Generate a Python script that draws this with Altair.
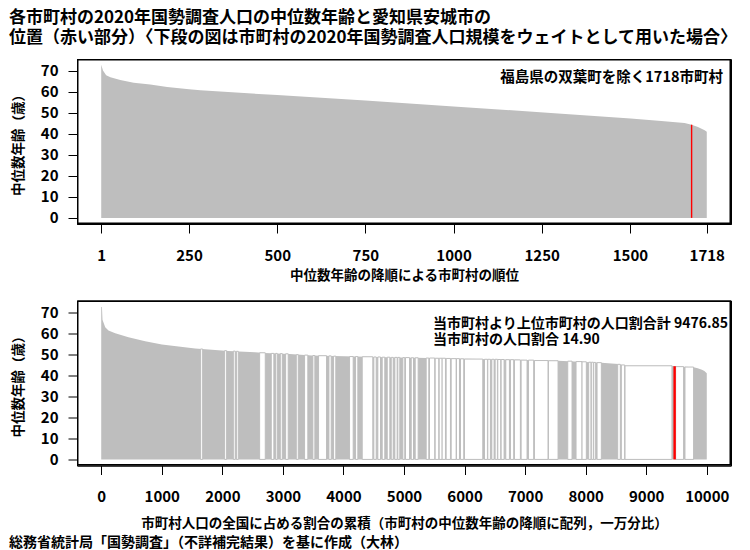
import altair as alt
import pandas as pd

FONT = "Noto Sans CJK JP"
GRAY = "#bebebe"
RED = "#ff0000"

title_lines = ["各市町村の2020年国勢調査人口の中位数年齢と愛知県安城市の",
               "位置（赤い部分）〈下段の図は市町村の2020年国勢調査人口規模をウェイトとして用いた場合〉"]
source_text = "総務省統計局「国勢調査」（不詳補完結果）を基に作成（大林）"
top_note = "福島県の双葉町を除く1718市町村"
bottom_notes = ["当市町村より上位市町村の人口割合計 9476.85", "当市町村の人口割合 14.90"]
y_title = "中位数年齢（歳）"
top_x_title = "中位数年齢の降順による市町村の順位"
bottom_x_title = "市町村人口の全国に占める割合の累積（市町村の中位数年齢の降順に配列，一万分比）"

# top panel: sorted median age by rank
rank = [1, 6, 15, 27, 55, 93, 140, 188, 250, 282, 500, 750, 1000, 1276, 1502,
        1589, 1655, 1675, 1693, 1712, 1718]
age_top = [73.0, 70.2, 67.9, 67.0, 65.7, 64.4, 63.5, 62.4, 61.3, 60.8, 58.5, 55.9,
           53.1, 50.0, 47.3, 46.2, 45.2, 44.4, 43.3, 41.8, 41.0]
anjo_rank = 1675
anjo_age = 44.4
top_ticks = [1, 250, 500, 750, 1000, 1250, 1500, 1718]

# bottom panel: cumulative population share (per 10000)
cum = [0, 12, 21, 66, 120, 231, 450, 726, 1002, 1276, 1551, 1827, 2101, 2541, 2701,
       3112, 3480, 4200, 4860, 5190, 5990, 6650, 7150, 7540, 8262, 8540, 8650, 9425,
       9470, 9782, 9850, 9920, 9960, 10000]
age_cum = [72.6, 72.6, 66.5, 63.0, 61.4, 60.1, 58.2, 56.3, 54.7, 53.8, 52.8, 52.2,
           51.7, 51.1, 50.7, 50.2, 49.5, 49.0, 48.6, 48.4, 47.9, 47.6, 47.2, 47.0,
           46.1, 45.4, 44.6, 44.6, 44.4, 43.9, 43.4, 42.7, 42.1, 41.1]
# large municipalities (wide rectangles, drawn hollow)
big_left = [1642, 2038, 2182, 2232, 2616, 2808, 2880, 2957, 3045, 3221, 3358, 3495,
            3589, 3760, 3837, 4101, 4200, 4310, 4502, 4568, 4640, 4723, 4789, 4849,
            4898, 4981, 5025, 5119, 5185, 5366, 5421, 5515, 5581, 5630, 5696, 5779,
            5867, 5933, 5999, 6329, 6384, 6450, 6505, 6549, 6604, 6681, 6758, 6824,
            6934, 7055, 7154, 7385, 7704, 7841, 7940, 8050, 8094, 8133, 8188, 8529,
            8589, 8650, 9486, 9640]
big_right = [1675, 2071, 2213, 2263, 2709, 2851, 2907, 2990, 3088, 3254, 3412, 3528,
             3721, 3798, 3874, 4161, 4238, 4485, 4541, 4612, 4683, 4766, 4822, 4887,
             4931, 5013, 5091, 5157, 5234, 5410, 5508, 5575, 5630, 5685, 5767, 5861,
             5916, 5987, 6301, 6378, 6427, 6488, 6543, 6598, 6653, 6741, 6812, 6922,
             7032, 7142, 7379, 7544, 7775, 7940, 8011, 8088, 8127, 8165, 8259, 8572,
             8644, 9425, 9617, 9782]
big_age = [52.6, 51.8, 51.6, 51.5, 50.8, 50.5, 50.5, 50.4, 50.3, 49.9, 49.7, 49.5,
           49.4, 49.3, 49.2, 49.0, 49.0, 48.9, 48.8, 48.8, 48.7, 48.7, 48.6, 48.6,
           48.6, 48.5, 48.5, 48.4, 48.4, 48.3, 48.3, 48.2, 48.2, 48.2, 48.1, 48.0,
           48.0, 47.9, 47.8, 47.7, 47.7, 47.7, 47.7, 47.6, 47.6, 47.5, 47.5, 47.4,
           47.3, 47.3, 47.1, 47.0, 46.8, 46.6, 46.5, 46.3, 46.3, 46.2, 46.1, 45.3,
           45.0, 44.6, 44.2, 44.0]
anjo_cum = 9469
bottom_ticks = list(range(0, 10001, 1000))
y_ticks = list(range(0, 71, 10))

W, H = 654, 165
Y_DOM = [-2.9, 75.7]
TOP_DOM = [-67.7, 1786.7]
BOT_DOM = [-400, 10400]

y_scale = alt.Scale(domain=Y_DOM, nice=False, zero=False)
top_xs = alt.Scale(domain=TOP_DOM, nice=False, zero=False)
bot_xs = alt.Scale(domain=BOT_DOM, nice=False, zero=False)

y_axis = alt.Axis(values=y_ticks, title=y_title, tickSize=9, labelPadding=10,
                  titlePadding=15, labelFontSize=15, titleFontSize=13.5, format="d")
top_x_axis = alt.Axis(values=top_ticks, title=top_x_title, tickSize=9,
                      labelPadding=15, titlePadding=5, labelFontSize=15,
                      titleFontSize=13.5, format="d")
bot_x_axis = alt.Axis(values=bottom_ticks, title=bottom_x_title, tickSize=9,
                      labelPadding=15, titlePadding=12, labelFontSize=15,
                      titleFontSize=13.5, format="d")


def text_layer(txt, x, y, size, align="left"):
    return alt.Chart(alt.Data(values=[{"t": txt}])).mark_text(
        font=FONT, fontWeight="bold", fontSize=size, align=align,
        baseline="middle", color="black"
    ).encode(text="t:N", x=alt.value(x), y=alt.value(y))


def frame_layer():
    # box just inside the plotting region
    return alt.Chart(alt.Data(values=[{"b": 1}])).mark_rect(
        fillOpacity=0, stroke="black", strokeWidth=1.5, clip=False
    ).encode(x=alt.value(0.75), x2=alt.value(W - 0.75),
             y=alt.value(0.75), y2=alt.value(H - 0.75))


# ---- top panel
df_top = pd.DataFrame({"rank": rank, "age": age_top})
top_area = alt.Chart(df_top).mark_area(color=GRAY, interpolate="linear").encode(
    x=alt.X("rank:Q", scale=top_xs, axis=top_x_axis),
    y=alt.Y("age:Q", scale=y_scale, axis=y_axis),
    y2=alt.datum(0),
)
top_red = alt.Chart(alt.Data(values=[{"r": 1}])).mark_rule(color=RED, strokeWidth=1.4).encode(
    x=alt.datum(anjo_rank, scale=top_xs, axis=top_x_axis),
    y=alt.datum(anjo_age, scale=y_scale, axis=y_axis),
    y2=alt.datum(0),
)
top = alt.layer(
    top_area, top_red, frame_layer(),
    text_layer(top_note, W - 8, 19, 14.5, "right"),
    text_layer(title_lines[0], -68, -41, 17),
    text_layer(title_lines[1], -68, -21.5, 17),
).properties(width=W, height=H)

# ---- bottom panel
df_cum = pd.DataFrame({"cum": cum, "age": age_cum})
df_big = pd.DataFrame({"l": big_left, "r": big_right, "a": big_age})
bot_area = alt.Chart(df_cum).mark_area(color=GRAY, interpolate="linear").encode(
    x=alt.X("cum:Q", scale=bot_xs, axis=bot_x_axis),
    y=alt.Y("age:Q", scale=y_scale, axis=y_axis),
    y2=alt.datum(0),
)
bot_rect = alt.Chart(df_big).mark_rect(fill="white", stroke=GRAY, strokeWidth=1).encode(
    x=alt.X("l:Q", scale=bot_xs, axis=bot_x_axis), x2="r:Q",
    y=alt.Y("a:Q", scale=y_scale, axis=y_axis), y2=alt.datum(0),
)
bot_red = alt.Chart(alt.Data(values=[{"r": 2}])).mark_rule(color=RED, strokeWidth=2.4).encode(
    x=alt.datum(anjo_cum, scale=bot_xs, axis=bot_x_axis),
    y=alt.datum(anjo_age, scale=y_scale, axis=y_axis),
    y2=alt.datum(0),
)
bottom = alt.layer(
    bot_area, bot_rect, bot_red, frame_layer(),
    text_layer(bottom_notes[0], 356, 23, 14),
    text_layer(bottom_notes[1], 356, 39, 14),
    text_layer(source_text, -68, 242, 14),
).properties(width=W, height=H)

chart = alt.vconcat(top, bottom, spacing=17.5).properties(
    padding={"left": 0, "top": 0, "right": 0, "bottom": 0}
).configure_view(stroke="black", strokeWidth=1).configure_axis(
    labelFont=FONT, titleFont=FONT, labelFontWeight="bold", titleFontWeight="bold",
    labelColor="black", titleColor="black", tickColor="black", grid=False,
    domain=True, domainColor="black", domainWidth=1,
    labelFlush=False, labelOverlap=False, labelBound=False,
)

chart.save("out.html", embed_options={"renderer": "svg", "actions": False})
